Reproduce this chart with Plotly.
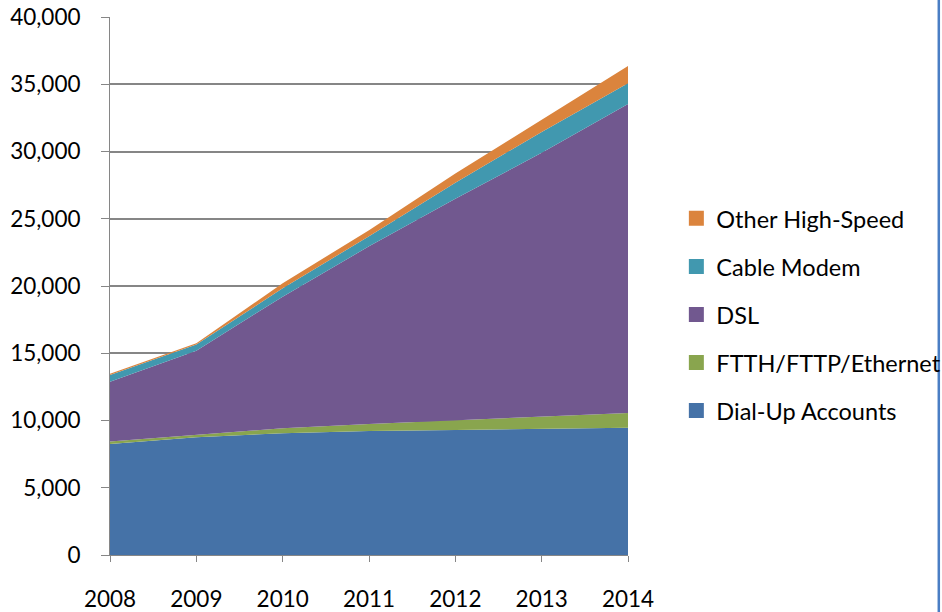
import plotly.graph_objects as go

# broadband / dial-up subscriptions, stacked
years = [2008, 2009, 2010, 2011, 2012, 2013, 2014]
dial_up = [8250, 8750, 9050, 9220, 9290, 9370, 9470]
ftth = [180, 170, 370, 520, 740, 920, 1090]
dsl = [4460, 6270, 9790, 13210, 16460, 19610, 22970]
cable = [500, 460, 620, 750, 1190, 1550, 1540]
other = [80, 90, 370, 450, 690, 910, 1290]

series = [
    ("Dial-Up Accounts", dial_up, "#4572A7"),
    ("FTTH/FTTP/Ethernet", ftth, "#89A54E"),
    ("DSL", dsl, "#71588F"),
    ("Cable Modem", cable, "#4198AF"),
    ("Other High-Speed", other, "#DB843D"),
]

font = "Lato, 'Open Sans', sans-serif"
fig = go.Figure()

for name, vals, col in series:
    fig.add_trace(go.Scatter(
        x=years, y=vals, name=name, stackgroup="one", mode="lines",
        line=dict(width=0), fillcolor=col, showlegend=False, hoverinfo="skip",
    ))

# legend entries as square swatches, top of stack first
for name, vals, col in reversed(series):
    fig.add_trace(go.Scatter(
        x=[None], y=[None], name=name, mode="markers", legendgroup=name,
        marker=dict(symbol="square", size=15, color=col),
    ))

fig.update_layout(
    width=942, height=612,
    margin=dict(l=110, r=314, t=17, b=57),
    paper_bgcolor="white", plot_bgcolor="white",
    font=dict(family=font, size=22.5, color="black"),
    legend=dict(xref="container", yref="container", x=0.718, y=0.486,
                xanchor="left", yanchor="middle", bgcolor="rgba(0,0,0,0)",
                traceorder="grouped", tracegroupgap=14.5,
                font=dict(size=23.5)),
    xaxis=dict(range=[2008, 2014], tickvals=years, ticks="outside", ticklen=6,
               tickcolor="#868686", showline=True, linecolor="#868686",
               showgrid=False, zeroline=False, ticklabelstandoff=18,
               automargin=False, ticklabeloverflow="allow"),
    yaxis=dict(range=[0, 40000], dtick=5000, tickformat=",", ticks="outside",
               ticklen=8, tickcolor="#868686", showline=True, linecolor="#868686",
               gridcolor="#868686", gridwidth=1.6, zeroline=False,
               ticklabelstandoff=16, automargin=False, ticklabeloverflow="allow"),
    shapes=[dict(type="line", xref="paper", yref="paper",
                 x0=1.6, x1=1.6, y0=-0.2, y1=1.1,
                 line=dict(color="#4A7EC4", width=2.5))],
)

# drop the page's default 8px body margin so the figure fills the window
fig.write_html("out.html", config={"displayModeBar": False},
               post_script="document.body.style.margin='0';"
                           "document.body.style.overflow='hidden';")
